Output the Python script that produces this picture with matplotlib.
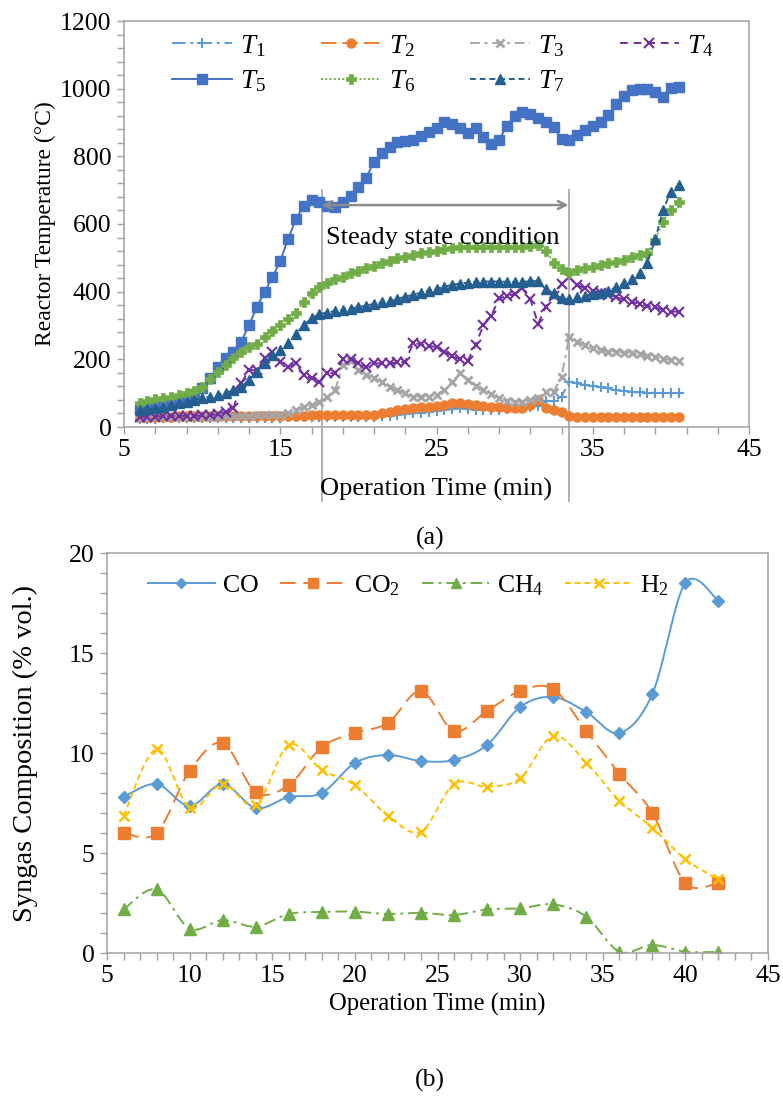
import numpy as np
import matplotlib
matplotlib.use('Agg')
import matplotlib.pyplot as plt
from matplotlib.ticker import MultipleLocator, FixedLocator
from matplotlib.lines import Line2D

plt.rcParams['font.family'] = ['Liberation Serif', 'DejaVu Serif']
plt.rcParams['mathtext.fontset'] = 'custom'
plt.rcParams['mathtext.rm'] = 'Liberation Serif'
plt.rcParams['mathtext.it'] = 'Liberation Serif:italic'
plt.rcParams['mathtext.bf'] = 'Liberation Serif:bold'

FS = 18.5

# ---------------- data (a) ----------------
time_a = np.arange(6.0, 40.75, 0.5)
T1 = [25, 25, 25, 26, 26, 26, 26, 27, 27, 27, 27, 27, 28, 28, 28, 28, 28, 28, 28, 29,
      29, 29, 29, 29, 29, 29, 30, 30, 30, 30, 31, 32, 33, 35, 38, 40, 42, 45, 48, 50,
      52, 55, 52, 50, 50, 50, 51, 53, 55, 57, 60, 62, 76, 77, 90, 134, 129, 124, 121, 117,
      114, 109, 107, 104, 102, 101, 101, 100, 100, 100]
T2 = [30, 30, 31, 31, 31, 32, 32, 32, 32, 33, 33, 33, 33, 33, 33, 33, 33, 33, 33, 33,
      33, 33, 34, 34, 34, 34, 34, 34, 35, 35, 36, 40, 45, 50, 53, 56, 58, 60, 62, 66,
      70, 72, 68, 65, 62, 60, 59, 57, 55, 56, 65, 80, 56, 50, 45, 32, 30, 30, 30, 30,
      30, 30, 30, 30, 30, 30, 30, 30, 30, 30]
T3 = [28, 28, 29, 29, 29, 30, 30, 30, 30, 31, 31, 32, 32, 33, 33, 34, 34, 35, 36, 40,
      50, 58, 64, 75, 90, 108, 183, 196, 168, 154, 144, 134, 119, 109, 100, 90, 90, 90, 95, 109,
      133, 159, 138, 122, 108, 97, 85, 78, 75, 75, 80, 85, 104, 104, 149, 267, 252, 242, 233, 228,
      223, 223, 220, 218, 215, 210, 206, 200, 198, 196]
T4 = [30, 31, 31, 32, 32, 33, 33, 33, 34, 35, 38, 45, 55, 129, 168, 168, 203, 223, 193, 178,
      188, 154, 144, 134, 159, 159, 200, 200, 189, 178, 188, 188, 188, 191, 193, 247, 245, 239, 237, 223,
      210, 200, 196, 242, 301, 328, 380, 387, 393, 410, 378, 305, 356, 387, 423, 442, 420, 410, 403, 397,
      390, 383, 377, 370, 364, 358, 354, 346, 341, 341]
T5 = [52, 55, 58, 62, 67, 75, 87, 98, 114, 144, 176, 203, 223, 252, 301, 354, 400, 442, 491, 555,
      614, 653, 671, 666, 652, 651, 664, 684, 708, 737, 784, 809, 827, 843, 846, 848, 861, 871, 883, 900,
      896, 883, 868, 883, 858, 837, 848, 890, 919, 932, 925, 912, 902, 886, 851, 848, 863, 878, 890, 900,
      922, 955, 978, 996, 998, 998, 991, 975, 1001, 1006]
T6 = [72, 78, 82, 86, 90, 95, 100, 107, 117, 141, 162, 183, 203, 223, 237, 245, 267, 285, 301, 319,
      338, 370, 395, 413, 427, 437, 444, 454, 461, 469, 476, 484, 492, 499, 503, 508, 513, 517, 521, 525,
      528, 531, 533, 533, 533, 531, 531, 531, 533, 533, 535, 538, 521, 486, 466, 454, 464, 469, 474, 479,
      484, 489, 494, 502, 508, 515, 553, 607, 641, 664]
T7 = [50, 52, 55, 60, 65, 70, 75, 80, 85, 90, 95, 101, 109, 119, 139, 164, 188, 213, 228, 247,
      275, 301, 321, 334, 338, 343, 346, 350, 354, 359, 364, 369, 373, 379, 385, 391, 397, 403, 409, 415,
      420, 424, 427, 429, 430, 430, 430, 429, 429, 429, 431, 431, 407, 395, 380, 377, 383, 387, 393, 397,
      403, 413, 425, 437, 454, 486, 555, 641, 696, 715]
labels_a = [r'$T_1$', r'$T_2$', r'$T_3$', r'$T_4$', r'$T_5$', r'$T_6$', r'$T_7$']
xticks_a = [5, 15, 25, 35, 45]
steady_start, steady_end = 17.65, 33.45

# ---------------- data (b) ----------------
time_b = [6, 8, 10, 12, 14, 16, 18, 20, 22, 24, 26, 28, 30, 32, 34, 36, 38, 40, 42]
CO = [7.8, 8.45, 7.35, 8.45, 7.25, 7.8, 8.0, 9.5, 9.9, 9.6, 9.65, 10.4, 12.3, 12.8, 12.05, 11.0, 12.95, 18.5, 17.6]
CO2 = [6.0, 6.0, 9.1, 10.5, 8.05, 8.4, 10.3, 11.0, 11.5, 13.1, 11.1, 12.1, 13.1, 13.2, 11.1, 8.97, 7.0, 3.5, 3.5]
CH4 = [2.18, 3.18, 1.22, 1.65, 1.32, 1.95, 2.05, 2.07, 1.95, 2.01, 1.9, 2.18, 2.23, 2.43, 1.82, 0.07, 0.4, 0.07, 0.05]
H2 = [6.85, 10.18, 7.27, 8.45, 7.4, 10.4, 9.15, 8.4, 6.87, 6.07, 8.45, 8.32, 8.73, 10.85, 9.52, 7.62, 6.27, 4.68, 3.68]
labels_b = ['CO', r'CO$_2$', r'CH$_4$', r'H$_2$']


def smooth(x, y, n=24):
    x = np.asarray(x, float)
    y = np.asarray(y, float)
    P = np.column_stack([x, y])
    P = np.vstack([P[0], P, P[-1]])
    s = np.linspace(0, 1, n, endpoint=False)[:, None]
    out = []
    for i in range(1, len(P) - 2):
        p0, p1, p2, p3 = P[i - 1], P[i], P[i + 1], P[i + 2]
        c1 = p1 + (p2 - p0) / 6.0
        c2 = p2 - (p3 - p1) / 6.0
        b = ((1 - s) ** 3) * p1 + 3 * ((1 - s) ** 2) * s * c1 + 3 * (1 - s) * s ** 2 * c2 + s ** 3 * p2
        out.append(b)
    out.append(P[-2][None, :])
    out = np.vstack(out)
    return out[:, 0], out[:, 1]


W, H = 783, 1099
fig = plt.figure(figsize=(W / 100, H / 100), dpi=100)

AX_COLOR = '#a0a0a0'


def style_axes(ax):
    for sp in ax.spines.values():
        sp.set_color(AX_COLOR)
        sp.set_linewidth(1.1)
    ax.tick_params(which='both', direction='out', color=AX_COLOR, width=1.0,
                   labelsize=FS, top=False, right=False, pad=4)
    ax.tick_params(which='major', length=5)
    ax.tick_params(which='minor', length=5)


# ---------------- panel (a) ----------------
axa = fig.add_axes([124 / W, 1 - 427 / H, 625 / W, 406 / H])
style_axes(axa)
axa.set_xlim(5, 45)
axa.set_ylim(0, 1200)
axa.xaxis.set_major_locator(FixedLocator(xticks_a))
axa.xaxis.set_minor_locator(MultipleLocator(2, offset=1))
axa.yaxis.set_major_locator(MultipleLocator(200))
axa.yaxis.set_minor_locator(MultipleLocator(40))

series_a = [T1, T2, T3, T4, T5, T6, T7]
styles_a = [
    dict(color='#5B9BD5', ls=(0, (7, 2.5, 1.5, 2.5)), marker='+', ms=7, mew=1.5),
    dict(color='#ED7D31', ls=(0, (8, 3)), marker='o', ms=6.5, mew=1),
    dict(color='#A5A5A5', ls=(0, (5, 2.5, 1.5, 2.5)), marker='x', ms=5.5, mew=2.0),
    dict(color='#7030A0', ls=(0, (4, 3)), marker='x', ms=6.5, mew=1.5),
    dict(color='#4472C4', ls='-', marker='s', ms=7, mew=1),
    dict(color='#70AD47', ls=(0, (1, 1.2)), marker='P', ms=6.5, mew=0.5),
    dict(color='#255E91', ls=(0, (3, 2)), marker='^', ms=7.5, mew=1),
]
handles = []
for vals, st, lab in zip(series_a, styles_a, labels_a):
    ln, = axa.plot(time_a, vals, lw=1.4, label=lab, **st)
    handles.append(ln)

# steady state annotation
GRAY = '#8c8c8c'
for xv in (steady_start, steady_end):
    axa.plot([xv, xv], [700, -218], color='#b0b0b0', lw=1.4, clip_on=False, zorder=1)
axa.annotate('', xy=(steady_end, 656), xytext=(steady_start, 656),
             arrowprops=dict(arrowstyle='<->', color=GRAY, lw=1.8,
                             shrinkA=0, shrinkB=0, mutation_scale=14), zorder=20)
axa.text(steady_start + 0.3, 559, 'Steady state condition', fontsize=19,
         ha='left', va='center', zorder=21)

order = [0, 4, 1, 5, 2, 6, 3]
axa.legend([handles[i] for i in order], [labels_a[i] for i in order],
           ncol=4, frameon=False, fontsize=FS + 1,
           loc='upper left', bbox_to_anchor=(172 / W, 1 - 33 / H),
           bbox_transform=fig.transFigure, borderpad=0, borderaxespad=0,
           handlelength=2.2, handletextpad=0.3, columnspacing=2.05,
           labelspacing=0.35)

axa.set_xlabel('Operation Time (min)', fontsize=19, labelpad=12)
axa.set_ylabel('Reactor Temperature (°C)', fontsize=17, labelpad=3)
fig.text(430 / W, 1 - 538 / H, '(a)', fontsize=FS, ha='center', va='center')

# ---------------- panel (b) ----------------
axb = fig.add_axes([107 / W, 1 - 953 / H, 661 / W, 400 / H])
style_axes(axb)
axb.set_xlim(5, 45)
axb.set_ylim(0, 20)
axb.xaxis.set_major_locator(MultipleLocator(5))
axb.xaxis.set_minor_locator(MultipleLocator(1))
axb.yaxis.set_major_locator(MultipleLocator(5))
axb.yaxis.set_minor_locator(MultipleLocator(1))

series_b = [CO, CO2, CH4, H2]
styles_b = [
    dict(color='#5B9BD5', ls='-', marker='D', ms=6.5),
    dict(color='#ED7D31', ls=(0, (8, 4)), marker='s', ms=8),
    dict(color='#70AD47', ls=(0, (6, 2.5, 1.5, 2.5)), marker='^', ms=8),
    dict(color='#FFC000', ls=(0, (3, 2)), marker='x', ms=7.5),
]
hb = []
for vals, st, lab in zip(series_b, styles_b, labels_b):
    sx, sy = smooth(time_b, vals)
    axb.plot(sx, sy, color=st['color'], ls=st['ls'], lw=1.4)
    mew = 1.8 if st['marker'] == 'x' else 1
    axb.plot(time_b, vals, ls='none', marker=st['marker'], ms=st['ms'],
             color=st['color'], mew=mew)
    hb.append(Line2D([], [], color=st['color'], ls=st['ls'], lw=1.4,
                     marker=st['marker'], ms=st['ms'] - 1, mew=mew))

axb.legend(hb, labels_b, ncol=4, frameon=False, fontsize=FS,
           loc='upper left', bbox_to_anchor=(148 / W, 1 - 573 / H),
           bbox_transform=fig.transFigure, borderpad=0, borderaxespad=0,
           handlelength=2.6, handletextpad=0.3, columnspacing=0.85)

axb.set_xlabel('Operation Time (min)', fontsize=17.7, labelpad=4)
axb.set_ylabel('Syngas Composition (% vol.)', fontsize=20.5, labelpad=22)
fig.text(430 / W, 1 - 1080 / H, '(b)', fontsize=FS, ha='center', va='center')

fig.savefig('out.png', dpi=100)
